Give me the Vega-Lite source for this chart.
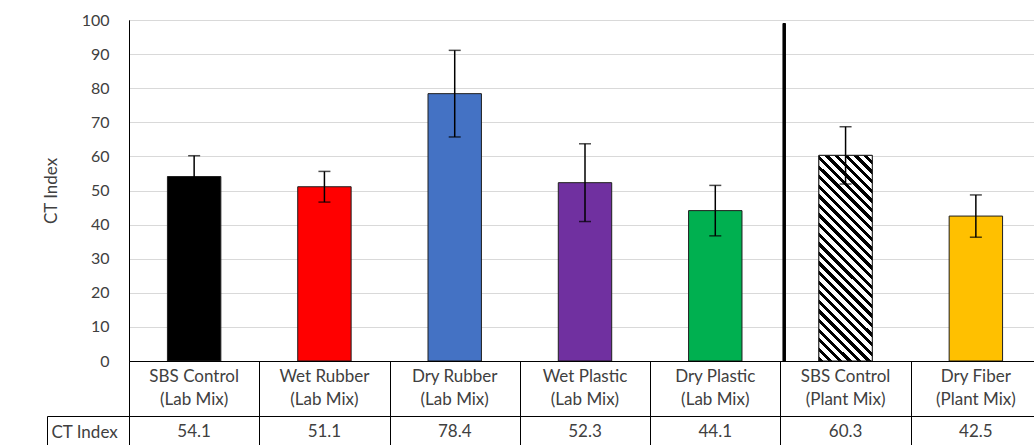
{
  "$schema": "https://vega.github.io/schema/vega-lite/v6.json",
  "padding": {"left": 41, "top": 11, "right": 0, "bottom": 0},
  "spacing": 0,
  "bounds": "flush",
  "config": {
    "font": "Lato",
    "view": {"stroke": "black", "strokeWidth": 1},
    "text": {"color": "#404040"}
  },
  "resolve": {"scale": {"x": "independent", "y": "independent"}},
  "datasets": {
    "ct": [
      {"category": "SBS Control\n(Lab Mix)", "material": "SBS Control", "mix": "Lab Mix", "value": 54.1, "lo": 48.0, "hi": 60.2},
      {"category": "Wet Rubber\n(Lab Mix)", "material": "Wet Rubber", "mix": "Lab Mix", "value": 51.1, "lo": 46.6, "hi": 55.6},
      {"category": "Dry Rubber\n(Lab Mix)", "material": "Dry Rubber", "mix": "Lab Mix", "value": 78.4, "lo": 65.7, "hi": 91.1},
      {"category": "Wet Plastic\n(Lab Mix)", "material": "Wet Plastic", "mix": "Lab Mix", "value": 52.3, "lo": 40.9, "hi": 63.7},
      {"category": "Dry Plastic\n(Lab Mix)", "material": "Dry Plastic", "mix": "Lab Mix", "value": 44.1, "lo": 36.7, "hi": 51.5},
      {"category": "SBS Control\n(Plant Mix)", "material": "SBS Control", "mix": "Plant Mix", "value": 60.3, "lo": 51.9, "hi": 68.7},
      {"category": "Dry Fiber\n(Plant Mix)", "material": "Dry Fiber", "mix": "Plant Mix", "value": 42.5, "lo": 36.3, "hi": 48.7}
    ]
  },
  "vconcat": [
    {
      "width": 912,
      "height": 341,
      "data": {"name": "ct"},
      "encoding": {
        "x": {"field": "category", "type": "nominal", "sort": null, "axis": null,
              "scale": {"paddingInner": 0.59, "paddingOuter": 0.295}}
      },
      "layer": [
        {
          "mark": {"type": "bar", "stroke": "#1f1f1f", "strokeWidth": 1},
          "encoding": {
            "y": {"field": "value", "type": "quantitative", "title": "CT Index",
                  "scale": {"domain": [0, 100], "nice": false},
                  "axis": {"values": [0, 10, 20, 30, 40, 50, 60, 70, 80, 90, 100], "tickCount": 11, "labelOverlap": false, "grid": true, "gridColor": "#D9D9D9", "gridWidth": 1,
                           "ticks": false, "labelPadding": 20, "domain": true, "domainColor": "black",
                           "labelFontSize": 16, "labelColor": "#404040", "titleFontSize": 17, "titleFontWeight": "normal",
                           "titleColor": "#404040", "titlePadding": 21}},
            "fill": {"field": "category", "type": "nominal", "sort": null, "legend": null,
                     "scale": {"range": ["#000000", "#FF0000", "#4472C4", "#7030A0", "#00B050", "#FFFFFF", "#FFC000"]}}
          }
        },
        {
          "transform": [{"filter": "datum.material == 'SBS Control' && datum.mix == 'Plant Mix'"}],
          "mark": {"type": "bar", "stroke": "#1f1f1f", "strokeWidth": 1,
                   "fill": {"gradient": "linear", "x1": 0, "y1": 1, "x2": 0.306, "y2": -0.18,
                            "stops": [
                              {"offset": 0, "color": "black"}, {"offset": 0.0167, "color": "black"}, {"offset": 0.0167, "color": "white"}, {"offset": 0.037, "color": "white"},
                              {"offset": 0.037, "color": "black"}, {"offset": 0.0537, "color": "black"}, {"offset": 0.0537, "color": "white"}, {"offset": 0.0741, "color": "white"},
                              {"offset": 0.0741, "color": "black"}, {"offset": 0.0907, "color": "black"}, {"offset": 0.0907, "color": "white"}, {"offset": 0.1111, "color": "white"},
                              {"offset": 0.1111, "color": "black"}, {"offset": 0.1278, "color": "black"}, {"offset": 0.1278, "color": "white"}, {"offset": 0.1481, "color": "white"},
                              {"offset": 0.1481, "color": "black"}, {"offset": 0.1648, "color": "black"}, {"offset": 0.1648, "color": "white"}, {"offset": 0.1852, "color": "white"},
                              {"offset": 0.1852, "color": "black"}, {"offset": 0.2019, "color": "black"}, {"offset": 0.2019, "color": "white"}, {"offset": 0.2222, "color": "white"},
                              {"offset": 0.2222, "color": "black"}, {"offset": 0.2389, "color": "black"}, {"offset": 0.2389, "color": "white"}, {"offset": 0.2593, "color": "white"},
                              {"offset": 0.2593, "color": "black"}, {"offset": 0.2759, "color": "black"}, {"offset": 0.2759, "color": "white"}, {"offset": 0.2963, "color": "white"},
                              {"offset": 0.2963, "color": "black"}, {"offset": 0.313, "color": "black"}, {"offset": 0.313, "color": "white"}, {"offset": 0.3333, "color": "white"},
                              {"offset": 0.3333, "color": "black"}, {"offset": 0.35, "color": "black"}, {"offset": 0.35, "color": "white"}, {"offset": 0.3704, "color": "white"},
                              {"offset": 0.3704, "color": "black"}, {"offset": 0.387, "color": "black"}, {"offset": 0.387, "color": "white"}, {"offset": 0.4074, "color": "white"},
                              {"offset": 0.4074, "color": "black"}, {"offset": 0.4241, "color": "black"}, {"offset": 0.4241, "color": "white"}, {"offset": 0.4444, "color": "white"},
                              {"offset": 0.4444, "color": "black"}, {"offset": 0.4611, "color": "black"}, {"offset": 0.4611, "color": "white"}, {"offset": 0.4815, "color": "white"},
                              {"offset": 0.4815, "color": "black"}, {"offset": 0.4981, "color": "black"}, {"offset": 0.4981, "color": "white"}, {"offset": 0.5185, "color": "white"},
                              {"offset": 0.5185, "color": "black"}, {"offset": 0.5352, "color": "black"}, {"offset": 0.5352, "color": "white"}, {"offset": 0.5556, "color": "white"},
                              {"offset": 0.5556, "color": "black"}, {"offset": 0.5722, "color": "black"}, {"offset": 0.5722, "color": "white"}, {"offset": 0.5926, "color": "white"},
                              {"offset": 0.5926, "color": "black"}, {"offset": 0.6093, "color": "black"}, {"offset": 0.6093, "color": "white"}, {"offset": 0.6296, "color": "white"},
                              {"offset": 0.6296, "color": "black"}, {"offset": 0.6463, "color": "black"}, {"offset": 0.6463, "color": "white"}, {"offset": 0.6667, "color": "white"},
                              {"offset": 0.6667, "color": "black"}, {"offset": 0.6833, "color": "black"}, {"offset": 0.6833, "color": "white"}, {"offset": 0.7037, "color": "white"},
                              {"offset": 0.7037, "color": "black"}, {"offset": 0.7204, "color": "black"}, {"offset": 0.7204, "color": "white"}, {"offset": 0.7407, "color": "white"},
                              {"offset": 0.7407, "color": "black"}, {"offset": 0.7574, "color": "black"}, {"offset": 0.7574, "color": "white"}, {"offset": 0.7778, "color": "white"},
                              {"offset": 0.7778, "color": "black"}, {"offset": 0.7944, "color": "black"}, {"offset": 0.7944, "color": "white"}, {"offset": 0.8148, "color": "white"},
                              {"offset": 0.8148, "color": "black"}, {"offset": 0.8315, "color": "black"}, {"offset": 0.8315, "color": "white"}, {"offset": 0.8519, "color": "white"},
                              {"offset": 0.8519, "color": "black"}, {"offset": 0.8685, "color": "black"}, {"offset": 0.8685, "color": "white"}, {"offset": 0.8889, "color": "white"},
                              {"offset": 0.8889, "color": "black"}, {"offset": 0.9056, "color": "black"}, {"offset": 0.9056, "color": "white"}, {"offset": 0.9259, "color": "white"},
                              {"offset": 0.9259, "color": "black"}, {"offset": 0.9426, "color": "black"}, {"offset": 0.9426, "color": "white"}, {"offset": 0.963, "color": "white"},
                              {"offset": 0.963, "color": "black"}, {"offset": 0.9796, "color": "black"}, {"offset": 0.9796, "color": "white"}, {"offset": 1, "color": "white"}
                            ]}},
          "encoding": {
            "y": {"field": "value", "type": "quantitative"}
          }
        },
        {
          "mark": {"type": "rule", "color": "black", "strokeWidth": 1.5},
          "encoding": {
            "y": {"field": "lo", "type": "quantitative"},
            "y2": {"field": "hi"}
          }
        },
        {
          "mark": {"type": "tick", "color": "black", "size": 12, "thickness": 1.5},
          "encoding": {
            "y": {"field": "hi", "type": "quantitative"}
          }
        },
        {
          "mark": {"type": "tick", "color": "black", "size": 12, "thickness": 1.5},
          "encoding": {
            "y": {"field": "lo", "type": "quantitative"}
          }
        },
        {
          "mark": {"type": "rule", "color": "black", "strokeWidth": 2.5},
          "encoding": {
            "x": {"datum": "SBS Control\n(Plant Mix)", "type": "nominal", "bandPosition": -0.65},
            "y": {"datum": 0, "type": "quantitative"},
            "y2": {"datum": 99}
          }
        }
      ]
    },
    {
      "width": 912,
      "height": 55,
      "data": {"name": "ct"},
      "mark": {"type": "text", "fontSize": 17, "lineBreak": "\n", "lineHeight": 23, "baseline": "middle", "dy": -11.5, "color": "#404040"},
      "encoding": {
        "x": {"field": "category", "type": "nominal", "sort": null,
              "scale": {"paddingInner": 0, "paddingOuter": 0},
              "axis": {"title": null, "labels": false, "ticks": false, "domain": false, "grid": true,
                       "gridColor": "black", "gridOpacity": 1, "gridWidth": 1, "tickBand": "extent"}},
        "text": {"field": "category", "type": "nominal"}
      }
    },
    {
      "width": 912,
      "height": 32,
      "data": {"name": "ct"},
      "mark": {"type": "text", "fontSize": 17, "baseline": "middle", "color": "#404040"},
      "encoding": {
        "x": {"field": "category", "type": "nominal", "sort": null,
              "scale": {"paddingInner": 0, "paddingOuter": 0},
              "axis": {"title": null, "labels": false, "ticks": false, "domain": false, "grid": true,
                       "gridColor": "black", "gridOpacity": 1, "gridWidth": 1, "tickBand": "extent"}},
        "y": {"datum": "CT Index", "type": "nominal",
              "scale": {"type": "band", "paddingInner": 0, "paddingOuter": 0},
              "axis": {"title": null, "orient": "left", "offset": 82, "domain": true, "domainColor": "black",
                       "ticks": true, "tickBand": "extent", "tickSize": -82, "tickColor": "black",
                       "labelAlign": "left", "labelPadding": 78, "labelFontSize": 17, "labelColor": "#404040",
                       "labelBaseline": "middle"}},
        "text": {"field": "value", "type": "quantitative", "format": ".1f"}
      }
    }
  ]
}
